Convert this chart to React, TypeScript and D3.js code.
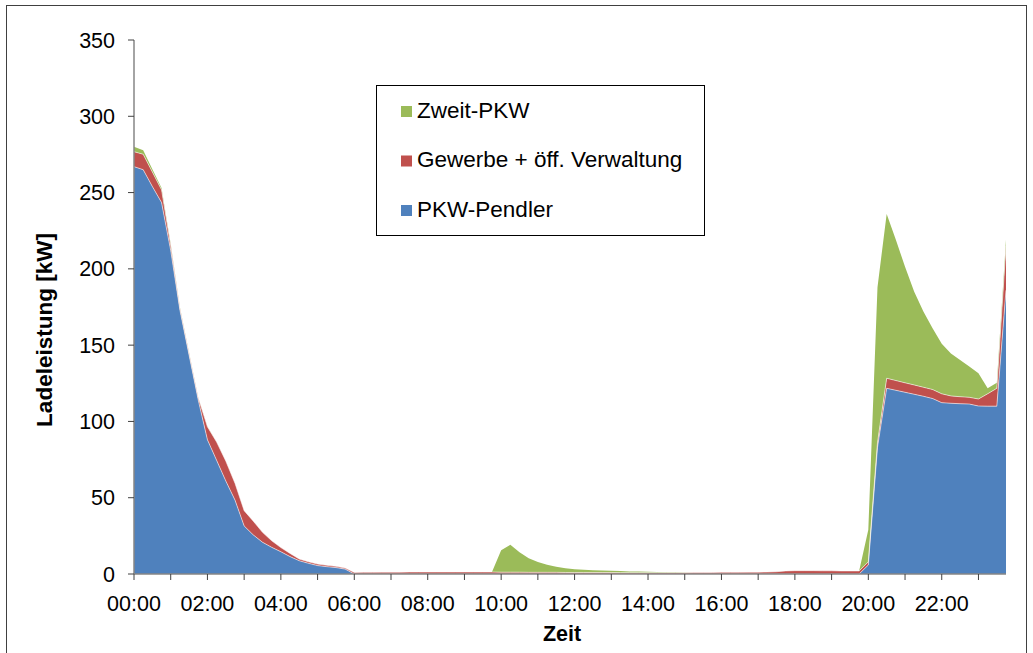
import React from "react";
import * as d3 from "d3";

// 15-minute intervals, 00:00 .. 23:45 (96 points), one row per hour
const pkwPendler: number[] = [
  267, 265, 254, 243.5,
  212, 173, 143.5, 114,
  88, 74.5, 61, 48.5,
  31.5, 25.6, 20.8, 17.5,
  14.6, 11.4, 8.7, 7,
  5.5, 4.8, 4.2, 3.2,
  0, 0, 0, 0,
  0, 0, 0, 0,
  0, 0, 0, 0,
  0, 0, 0, 0,
  0, 0, 0, 0,
  0, 0, 0, 0,
  0, 0, 0, 0,
  0, 0, 0, 0,
  0, 0, 0, 0,
  0, 0, 0, 0,
  0, 0, 0, 0,
  0, 0, 0, 0,
  0, 0, 0, 0,
  0, 0, 0, 0,
  5.9, 83, 121.7, 120.4,
  119.1, 117.8, 116.5, 115,
  112.3, 111.9, 111.6, 111.4,
  110.1, 110, 110, 186,
];

const gewerbe: number[] = [
  9.8, 10.1, 9.5, 8.3,
  3.5, 1.5, 1.3, 1.5,
  8.5, 12, 13, 11,
  10, 9, 6.5, 4.3,
  2.7, 2.1, 1.1, 1.0,
  1.0, 0.9, 0.8, 0.7,
  1.0, 1.1, 1.1, 1.2,
  1.2, 1.2, 1.3, 1.3,
  1.3, 1.3, 1.3, 1.3,
  1.3, 1.3, 1.3, 1.3,
  1.2, 1.2, 1.2, 1.1,
  1.1, 1.1, 1.1, 1.0,
  1.0, 1.0, 1.0, 1.0,
  1.0, 0.9, 0.9, 0.9,
  0.9, 0.9, 0.9, 0.9,
  0.9, 1.0, 1.0, 1.0,
  1.1, 1.1, 1.1, 1.2,
  1.2, 1.3, 1.5, 2.0,
  2.2, 2.2, 2.2, 2.1,
  2.1, 2.0, 2.0, 2.0,
  2.1, 3, 6.6, 6.4,
  6.2, 6.1, 5.9, 5.9,
  5.8, 4.8, 4.6, 4.4,
  4.6, 8.1, 11.7, 29,
];

const zweitPkw: number[] = [
  3.3, 2.6, 1.8, 1.2,
  0.8, 0.5, 0.3, 0.2,
  0.1, 0, 0, 0,
  0, 0, 0, 0,
  0, 0, 0, 0,
  0, 0, 0, 0,
  0, 0, 0, 0,
  0, 0, 0, 0,
  0, 0, 0, 0,
  0, 0, 0, 0,
  14.3, 18, 13, 9.3,
  6.7, 5, 3.6, 2.7,
  2.1, 1.8, 1.5, 1.3,
  1.1, 1.0, 0.8, 0.7,
  0.5, 0.4, 0.3, 0.2,
  0.1, 0, 0, 0,
  0, 0, 0, 0,
  0, 0, 0, 0,
  0, 0, 0, 0,
  0, 0, 0, 0,
  21, 102, 107.7, 92.2,
  76.1, 61.1, 49.6, 40.1,
  32.8, 27.9, 24.1, 20.2,
  16.8, 3.6, 3.7, 4,
];

const hourTicks: number[] = [0, 1, 2, 3, 4, 5, 6, 7, 8, 9, 10, 11, 12, 13, 14, 15, 16, 17, 18, 19, 20, 21, 22, 23];
const hourLabels: string[] = ["00:00", "02:00", "04:00", "06:00", "08:00", "10:00", "12:00", "14:00", "16:00", "18:00", "20:00", "22:00"];
const yTicks: number[] = [0, 50, 100, 150, 200, 250, 300, 350];

const seriesNames = ["PKW-Pendler", "Gewerbe + öff. Verwaltung", "Zweit-PKW"];
const seriesColors = ["#4F81BD", "#C0504D", "#9BBB59"];

const FONT = "'Liberation Sans', Arial, sans-serif";

export default function App() {
  const W = 1033;
  const H = 653;
  const x = d3.scaleLinear().domain([0, 95]).range([134, 1006]);
  const xHour = (h: number) => x(h * 4);
  const y = d3.scaleLinear().domain([0, 350]).range([574, 40]);

  const rows = pkwPendler.map((v, i) => ({ i, a: v, b: gewerbe[i], c: zweitPkw[i] }));
  const stack = d3.stack<any>().keys(["a", "b", "c"]);
  const layers = stack(rows);

  const area = d3
    .area<any>()
    .x((d) => x(d.data.i))
    .y0((d) => y(d[0]))
    .y1((d) => y(d[1]));
  const topLine = d3
    .line<any>()
    .x((d) => x(d.data.i))
    .y((d) => y(d[1]));

  const legendItems = [
    { name: seriesNames[2], color: seriesColors[2] },
    { name: seriesNames[1], color: seriesColors[1] },
    { name: seriesNames[0], color: seriesColors[0] },
  ];

  return (
    <svg
      width={W}
      height={H}
      style={{ position: "absolute", left: 0, top: 0, background: "#fff" }}
      fontFamily={FONT}
    >
      <rect x={0} y={0} width={W} height={H} fill="#fff" />
      <rect x={6.5} y={5.5} width={1020} height={660} fill="none" stroke="#404040" strokeWidth={1} />

      {layers.map((layer, k) => (
        <path key={"a" + k} d={area(layer as any) || ""} fill={seriesColors[k]} />
      ))}
      {layers.slice(0, 2).map((layer, k) => (
        <path
          key={"l" + k}
          d={topLine(layer as any) || ""}
          fill="none"
          stroke="#ffffff"
          strokeOpacity={0.55}
          strokeWidth={1}
        />
      ))}

      {/* Y axis */}
      <line x1={134} x2={134} y1={40} y2={574} stroke="#868686" strokeWidth={1.5} />
      {yTicks.map((t) => (
        <g key={"y" + t}>
          <line x1={128} x2={134} y1={y(t)} y2={y(t)} stroke="#404040" strokeWidth={1} />
          <text
            x={115}
            y={y(t)}
            dy="0.35em"
            textAnchor="end"
            fontSize={21.5}
            fill="#000"
          >
            {t}
          </text>
        </g>
      ))}

      {/* X axis */}
      <line x1={134} x2={1006} y1={574} y2={574} stroke="#868686" strokeWidth={1.5} />
      {hourTicks.map((h) => (
        <line key={"xt" + h} x1={xHour(h)} x2={xHour(h)} y1={574} y2={580} stroke="#404040" strokeWidth={1} />
      ))}
      {hourLabels.map((lab, k) => (
        <text key={"xl" + k} x={xHour(k * 2)} y={611} textAnchor="middle" fontSize={21.5} fill="#000">
          {lab}
        </text>
      ))}

      {/* Axis titles */}
      <text x={562} y={641} textAnchor="middle" fontSize={21.5} fontWeight="bold" fill="#000">
        Zeit
      </text>
      <text
        transform="translate(52,330) rotate(-90)"
        textAnchor="middle"
        fontSize={22.5}
        fontWeight="bold"
        fill="#000"
      >
        Ladeleistung [kW]
      </text>

      {/* Legend */}
      <rect x={376.5} y={85.5} width={328} height={150} fill="#fff" stroke="#000" strokeWidth={1} />
      {legendItems.map((it, k) => (
        <g key={"lg" + k}>
          <rect x={401} y={106 + k * 49.5} width={11} height={11} fill={it.color} />
          <text x={417} y={117.5 + k * 49.5} fontSize={22.5} fill="#000">
            {it.name}
          </text>
        </g>
      ))}
    </svg>
  );
}
